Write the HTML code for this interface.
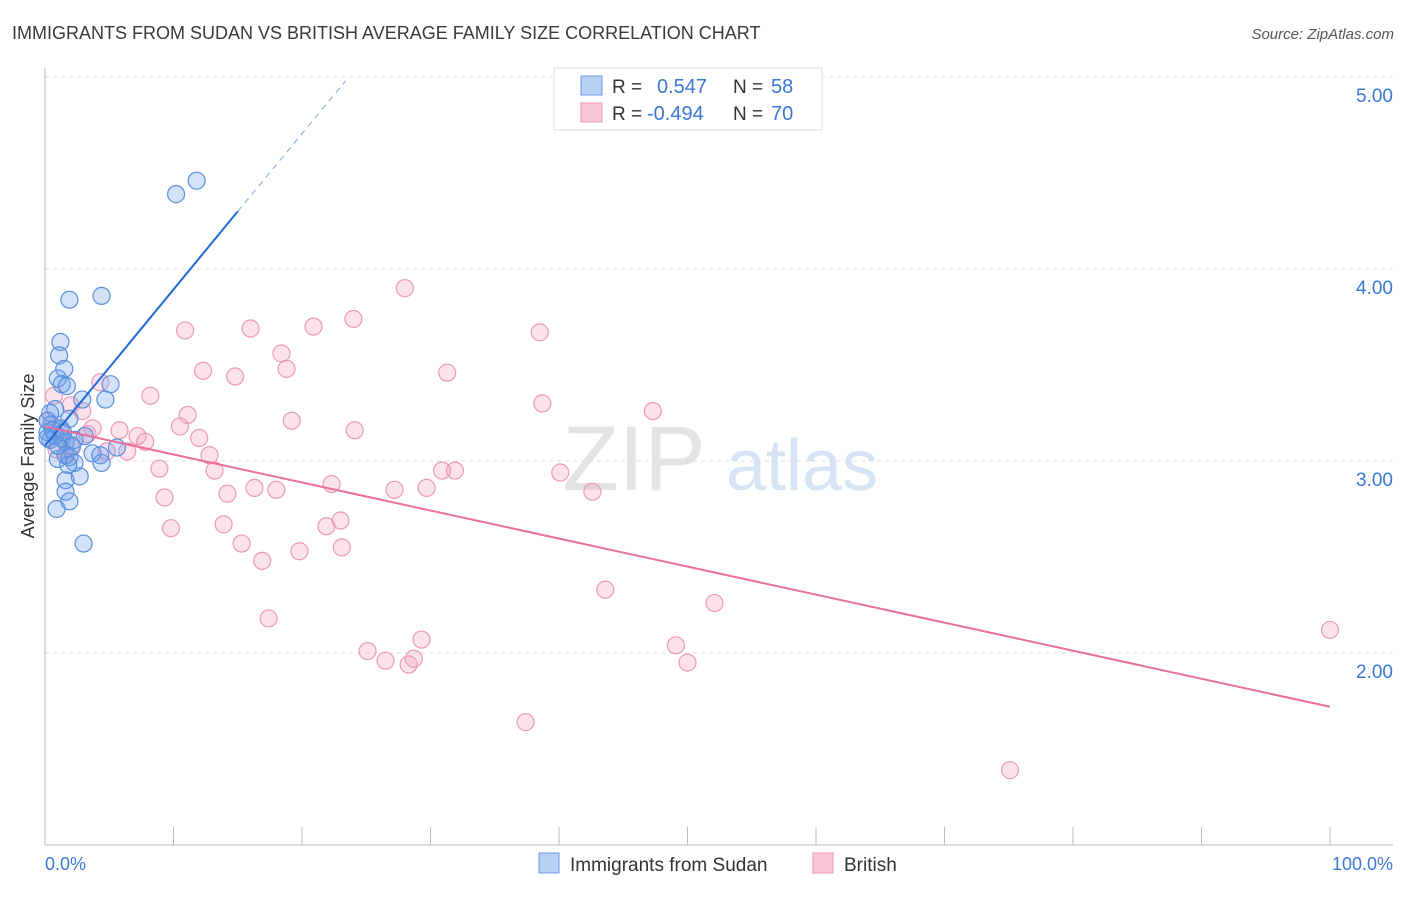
<!DOCTYPE html>
<html><head><meta charset="utf-8"><style>
body{margin:0;background:#fff;font-family:"Liberation Sans",sans-serif}
svg text{font-family:"Liberation Sans",sans-serif}
</style></head><body>
<svg id="chart" width="1406" height="892" xmlns="http://www.w3.org/2000/svg">
<text x="12" y="39" font-size="18" fill="#3a3a3a">IMMIGRANTS FROM SUDAN VS BRITISH AVERAGE FAMILY SIZE CORRELATION CHART</text>
<text x="1394" y="39" font-size="15" fill="#555" font-style="italic" text-anchor="end">Source: ZipAtlas.com</text>
<g>
<text x="634" y="490" font-size="92" fill="#e4e4e4" text-anchor="middle" font-family="Liberation Serif,serif">ZIP</text>
<text x="802" y="490" font-size="72" fill="#d6e4f5" text-anchor="middle">atlas</text>
</g>
<g id="grid"></g>
<g id="axes"></g>
<g id="points"></g>
<g id="lines"></g>
<text transform="translate(34,456) rotate(-90)" font-size="18" fill="#333" text-anchor="middle">Average Family Size</text>
<text x="45" y="870" font-size="18" fill="#3a78d4">0.0%</text>
<text x="1393" y="870" font-size="18" fill="#3a78d4" text-anchor="end">100.0%</text>
<g>
<rect x="554" y="68" width="268" height="62" fill="#fff" stroke="#ddd"/>
<rect x="581" y="76" width="21" height="19" fill="#b7d0f3" stroke="#6a9be0"/>
<rect x="581" y="103" width="21" height="19" fill="#f9c8d8" stroke="#ea97b3"/>
<text x="612" y="93" font-size="19" fill="#333">R =</text><text x="657" y="93" font-size="20" fill="#3a78d4">0.547</text>
<text x="733" y="93" font-size="19" fill="#333">N =</text><text x="771" y="93" font-size="20" fill="#3a78d4">58</text>
<text x="612" y="120" font-size="19" fill="#333">R =</text><text x="647" y="120" font-size="20" fill="#3a78d4">-0.494</text>
<text x="733" y="120" font-size="19" fill="#333">N =</text><text x="771" y="120" font-size="20" fill="#3a78d4">70</text>
</g>
<g>
<rect x="539" y="853" width="20" height="20" fill="#b7d0f3" stroke="#6a9be0"/>
<text x="570" y="871" font-size="19" fill="#333">Immigrants from Sudan</text>
<rect x="813" y="853" width="20" height="20" fill="#f9c8d8" stroke="#ea97b3"/>
<text x="844" y="871" font-size="19" fill="#333">British</text>
</g>
</svg>
<script>
const yTicks=[2,3,4,5];
const yTickLabels=["2.00","3.00","4.00","5.00"];
const blueX=[10.2,11.8,1.9,4.4,1.2,1.1,1.5,1.0,1.3,1.7,5.1,4.7,2.9,0.8,0.4,1.9,0.5,1.2,0.2,0.8,1.3,0.4,1.6,3.1,2.1,5.6,3.7,1.6,1.9,1.0,4.4,2.3,2.7,1.6,1.6,1.9,0.9,3.0,0.2,0.6,1.0,0.2,2.3,1.4,4.3,1.8];
const blueY=[4.39,4.46,3.84,3.86,3.62,3.55,3.48,3.43,3.40,3.39,3.40,3.32,3.32,3.27,3.25,3.22,3.19,3.17,3.15,3.13,3.12,3.11,3.10,3.13,3.08,3.07,3.04,3.03,3.02,3.01,2.99,2.99,2.92,2.90,2.84,2.79,2.75,2.57,3.21,3.16,3.08,3.12,3.11,3.15,3.03,2.98];
const pinkX=[0.7,2.9,4.3,2.0,3.3,3.7,0.9,2.1,5.8,4.8,6.4,7.2,7.8,8.2,8.9,9.3,9.8,10.5,10.9,11.1,12.0,12.3,12.8,13.2,13.9,14.2,14.8,15.3,16.0,16.3,16.9,17.4,18.0,18.4,18.8,19.2,19.8,20.9,21.9,22.3,23.0,23.1,24.0,24.1,25.1,26.5,27.2,28.0,28.3,28.7,29.3,29.7,30.9,31.3,31.9,37.4,38.5,38.7,40.1,42.6,43.6,47.3,49.1,50.0,52.1,75.1,100,0.2,1.2,1.6];
const pinkY=[3.34,3.26,3.41,3.29,3.14,3.17,3.06,3.07,3.16,3.05,3.05,3.13,3.10,3.34,2.96,2.81,2.65,3.18,3.68,3.24,3.12,3.47,3.03,2.95,2.67,2.83,3.44,2.57,3.69,2.86,2.48,2.18,2.85,3.56,3.48,3.21,2.53,3.70,2.66,2.88,2.69,2.55,3.74,3.16,2.01,1.96,2.85,3.90,1.94,1.97,2.07,2.86,2.95,3.46,2.95,1.64,3.67,3.30,2.94,2.84,2.33,3.26,2.04,1.95,2.26,1.39,2.12,3.21,3.16,3.03];
const blueTrend=[3.08,4.30,4.98]; // at x=0,15,23.4
const blueTrendX=[0,15,23.4];
const pinkTrend=[3.18,1.72];
const pinkTrendX=[0,100];
const NS="http://www.w3.org/2000/svg";
const sx=v=>45+v*12.85;
const sy=v=>845-(v-1)*192;
function mk(tag,attrs,parent){const e=document.createElementNS(NS,tag);for(const k in attrs)e.setAttribute(k,attrs[k]);document.getElementById(parent).appendChild(e);return e;}
yTicks.forEach((t,i)=>{
  const l=mk('line',{x1:45,x2:1393,y1:sy(t),y2:sy(t),stroke:'#ddd','stroke-dasharray':'4,4'},'grid');
  
  
  const tx=mk('text',{x:1393,y:sy(t)+25,'font-size':19,fill:'#3a78d4','text-anchor':'end'},'grid');
  tx.textContent=yTickLabels[i];
  
  
});
const ax=mk('line',{x1:45,x2:45,y1:68,y2:845,stroke:'#bbb'},'axes');


const bx=mk('line',{x1:45,x2:1393,y1:845,y2:845,stroke:'#bbb'},'axes');


for(let i=0;i<=10;i++){
  const t=mk('line',{x1:sx(i*10),x2:sx(i*10),y1:827,y2:845,stroke:'#bbb'},'axes');
  
  
}
pinkX.forEach((x,i)=>{
  const c=mk('circle',{cx:sx(x),cy:sy(pinkY[i]),r:8.5,fill:'rgba(244,160,190,0.3)',stroke:'#eb9ab6','stroke-width':1.2},'points');
  
  
});
blueX.forEach((x,i)=>{
  const c=mk('circle',{cx:sx(x),cy:sy(blueY[i]),r:8.5,fill:'rgba(110,160,235,0.3)',stroke:'#5a90dc','stroke-width':1.2},'points');
  
  
});
const bl=mk('line',{x1:sx(blueTrendX[0]),y1:sy(blueTrend[0]),x2:sx(blueTrendX[1]),y2:sy(blueTrend[1]),stroke:'#1f6bd6','stroke-width':2},'lines');


const bd=mk('line',{x1:sx(blueTrendX[1]),y1:sy(blueTrend[1]),x2:sx(blueTrendX[2]),y2:sy(blueTrend[2]),stroke:'#8fb2e6','stroke-width':1.2,'stroke-dasharray':'6,5'},'lines');


const pl=mk('line',{x1:sx(pinkTrendX[0]),y1:sy(pinkTrend[0]),x2:sx(pinkTrendX[1]),y2:sy(pinkTrend[1]),stroke:'#e8709a','stroke-width':2},'lines');


</script>
</body></html>
